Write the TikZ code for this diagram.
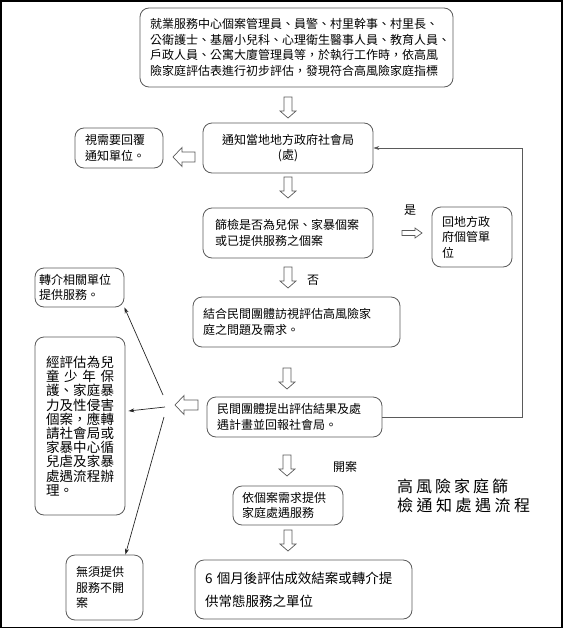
\documentclass[tikz,border=0pt]{standalone}
\usepackage{fontspec}
\setmainfont{Noto Sans CJK TC}
\usetikzlibrary{arrows.meta}
\definecolor{boxgray}{HTML}{5A5A5A}
\newcommand\hollowdown[2]{\draw[harr] ({#1-4},#2) -- ({#1+4},#2) -- ({#1+4},{#2+14}) -- ({#1+8},{#2+14}) -- (#1,{#2+21}) -- ({#1-8},{#2+14}) -- ({#1-4},{#2+14}) -- cycle;}
\newcommand\hollowleft[3]{\draw[harr] (#2,{#3-5}) -- ({#1+9},{#3-5}) -- ({#1+9},{#3-9.5}) -- (#1,#3) -- ({#1+9},{#3+9.5}) -- ({#1+9},{#3+5}) -- (#2,{#3+5}) -- cycle;}
\newcommand\hollowright[3]{\draw[harr] (#1,{#3-2.5}) -- ({#2-7},{#3-2.5}) -- ({#2-7},{#3-5}) -- (#2,#3) -- ({#2-7},{#3+5}) -- ({#2-7},{#3+2.5}) -- (#1,{#3+2.5}) -- cycle;}
\newcommand\sline[2]{\makebox[#1][s]{#2}}
\begin{document}
\begin{tikzpicture}[x=1pt,y=-1pt,
  box/.style={draw=boxgray, line width=0.8pt, rounded corners=9pt, align=left, inner ysep=0pt, font=\fontsize{12}{15.5}\selectfont},
  harr/.style={draw=boxgray, line width=0.7pt, fill=white, line join=miter},
  conn/.style={draw=black!85, line width=0.7pt, -{Stealth[length=6pt,width=4pt]}},
  fb/.style={draw=boxgray, line width=0.8pt, -{Stealth[length=6pt,width=4pt,fill=black]}},
  lbl/.style={font=\fontsize{12}{14}\selectfont, inner sep=0pt}]
\useasboundingbox (0,0) rectangle (563,629);
\draw[line width=1.6pt] (0.8,0.8) rectangle (561.8,627.6);

\node[box, text width=293pt, inner xsep=10pt, minimum height=79pt] (b1) at (296.5,47.5)
 {就業服務中心個案管理員、員警、村里幹事、村里長、\\公衛護士、基層小兒科、心理衛生醫事人員、教育人員、\\戶政人員、公寓大廈管理員等，於執行工作時，依高風\\險家庭評估表進行初步評估，發現符合高風險家庭指標};
\node[box, text width=150pt, inner xsep=10pt, minimum height=50pt, align=center] (b2) at (288,148) {通知當地地方政府社會局\\(處)};
\node[box, text width=146pt, inner xsep=12pt, minimum height=50pt] (b3) at (288,233) {篩檢是否為兒保、家暴個案\\或已提供服務之個案};
\node[box, text width=60pt, inner xsep=10pt, minimum height=60pt] (b4) at (472,237) {回地方政\\府個管單\\位};
\node[box, text width=187pt, inner xsep=10pt, minimum height=50pt] (b5) at (296.5,322) {結合民間團體訪視評估高風險家\\庭之問題及需求。};
\node[box, text width=155pt, inner xsep=10pt, minimum height=40pt] (b6) at (294.5,417) {民間團體提出評估結果及處\\遇計畫並回報社會局。};
\node[box, text width=81pt, inner xsep=4pt, minimum height=39pt] (b7) at (79.5,287.5) {轉介相關單位\\提供服務。};
\node[box, text width=68pt, inner xsep=11pt, minimum height=178pt, font=\fontsize{13.5}{14.2}\selectfont] (b8) at (80,426)
 {\sline{68pt}{經\hfil 評\hfil 估\hfil 為\hfil 兒}\\
  \sline{68pt}{童\hfil 少\hfil 年\hfil 保}\\
  \sline{68pt}{護\hfil 、\hfil 家\hfil 庭\hfil 暴}\\
  \sline{68pt}{力\hfil 及\hfil 性\hfil 侵\hfil 害}\\
  \sline{68pt}{個\hfil 案\hfil ，\hfil 應\hfil 轉}\\
  \sline{68pt}{請\hfil 社\hfil 會\hfil 局\hfil 或}\\
  \sline{68pt}{家\hfil 暴\hfil 中\hfil 心\hfil 循}\\
  \sline{68pt}{兒\hfil 虐\hfil 及\hfil 家\hfil 暴}\\
  \sline{68pt}{處\hfil 遇\hfil 流\hfil 程\hfil 辦}\\
  理。};
\node[box, text width=57pt, inner xsep=10pt, minimum height=65pt] (b9) at (104.5,587.5) {無須提供\\服務不開\\案};
\node[box, text width=68pt, inner xsep=10pt, minimum height=40pt] (b10) at (119,148) {視需要回覆\\通知單位。};
\node[box, text width=92pt, inner xsep=9pt, minimum height=39pt] (b11) at (288,505.5) {依個案需求提供\\家庭處遇服務};
\node[box, text width=197pt, inner xsep=10pt, minimum height=59pt, font=\fontsize{13.5}{23}\selectfont] (b12) at (303.5,589.5) {6 個月後評估成效結案或轉介提\\供常態服務之單位};

\node[anchor=west, align=left, inner sep=0pt, font=\fontsize{16}{19}\selectfont] (title) at (397,495.5)
 {\sline{111pt}{高\hfil 風\hfil 險\hfil 家\hfil 庭\hfil 篩}\\\sline{133pt}{檢\hfil 通\hfil 知\hfil 處\hfil 遇\hfil 流\hfil 程}};

\node[lbl] (yes) at (410,210) {是};
\node[lbl] (no) at (313,280) {否};
\node[lbl] (open) at (345,467) {開案};

\hollowdown{288}{97}
\hollowdown{288}{177}
\hollowdown{288}{267}
\hollowdown{287}{368}
\hollowdown{287}{455}
\hollowdown{288}{530}
\hollowleft{173}{195}{157}
\hollowleft{175}{198}{405}
\hollowright{402}{422}{233}

\coordinate (h1) at (163,395);
\coordinate (h2) at (165,407);
\coordinate (h3) at (164,417);
\draw[conn] (h1) -- (b7.south east);
\draw[conn] (h2) -- ([xshift=3pt,yshift=15pt]b8.east);
\draw[conn] (h3) -- ([xshift=-18pt]b9.north east);
\draw[fb] (b6.east) -- ++(140,0) |- (b2.east);
\end{tikzpicture}
\end{document}
